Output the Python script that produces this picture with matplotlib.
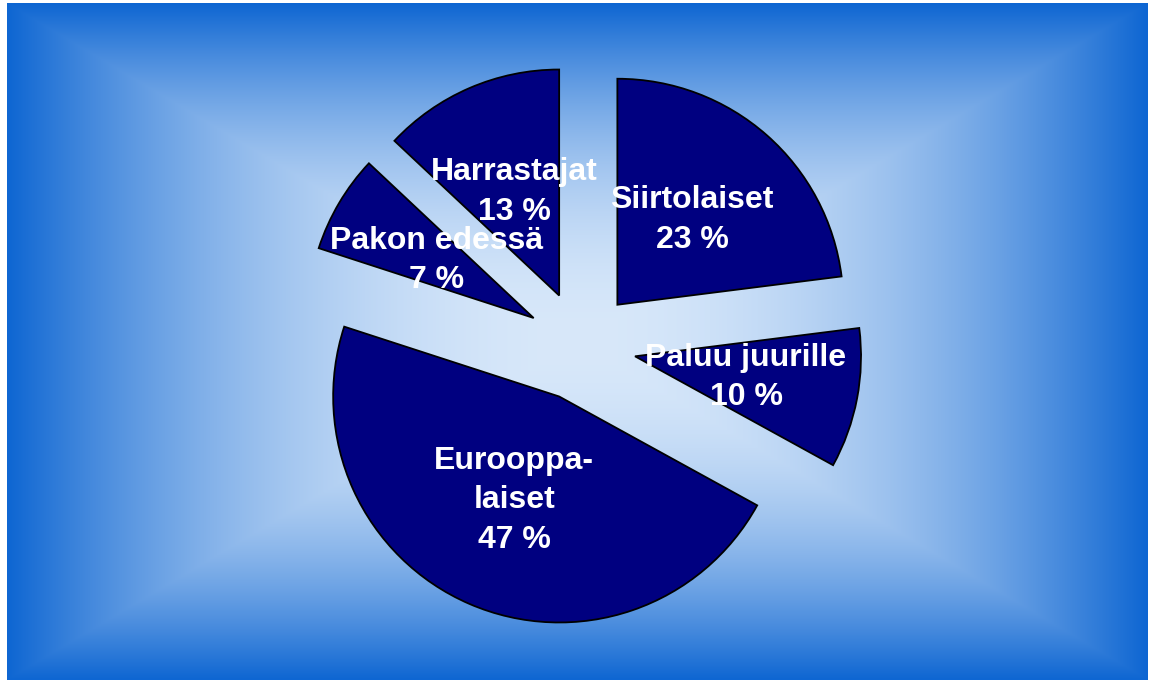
import numpy as np
import matplotlib
matplotlib.use("Agg")
import matplotlib.pyplot as plt

# data
categories = ["Siirtolaiset", "Paluu juurille", "Eurooppa-\nlaiset", "Pakon edessä", "Harrastajat"]
shares = [23, 10, 47, 7, 13]

W, H = 1149, 680
fig = plt.figure(figsize=(W / 100, H / 100), dpi=100, facecolor="white")
ax = fig.add_axes([0, 0, 1, 1])

# rectangular "from centre" gradient background
edge = np.array([14, 102, 210]) / 255
centre = np.array([216, 232, 250]) / 255
nx, ny = 800, 480
gx, gy = np.meshgrid(np.linspace(-1, 1, nx), np.linspace(-1, 1, ny))
s = 1 - np.maximum(np.abs(gx), np.abs(gy))
f = (1 - (1 - s) ** 2)[..., None]
grad = edge * (1 - f) + centre * f
ax.imshow(grad, extent=(7, 1148, 0, 677), origin="lower", zorder=0,
          interpolation="bilinear", aspect="auto")

labels = [f"{c}\n{v} %" for c, v in zip(categories, shares)]
wedges, texts = ax.pie(
    shares, labels=labels, colors=["#000080"] * len(shares),
    explode=[55] * len(shares), startangle=90, counterclock=False,
    radius=226, center=(581, 334), labeldistance=0.5,
    wedgeprops=dict(edgecolor="black", linewidth=1.3),
    textprops=dict(color="white", fontsize=23, fontweight="bold",
                   family="Liberation Sans", linespacing=1.42),
)
for w in wedges:
    w.set_zorder(2)
for t_ in texts:
    t_.set_ha("center")
    t_.set_va("center")
    t_.set_multialignment("center")
    t_.set_zorder(3)

ax.set_xlim(0, W)
ax.set_ylim(0, H)
ax.set_aspect("equal")
ax.axis("off")

fig.savefig("out.png", dpi=100, facecolor="white")
